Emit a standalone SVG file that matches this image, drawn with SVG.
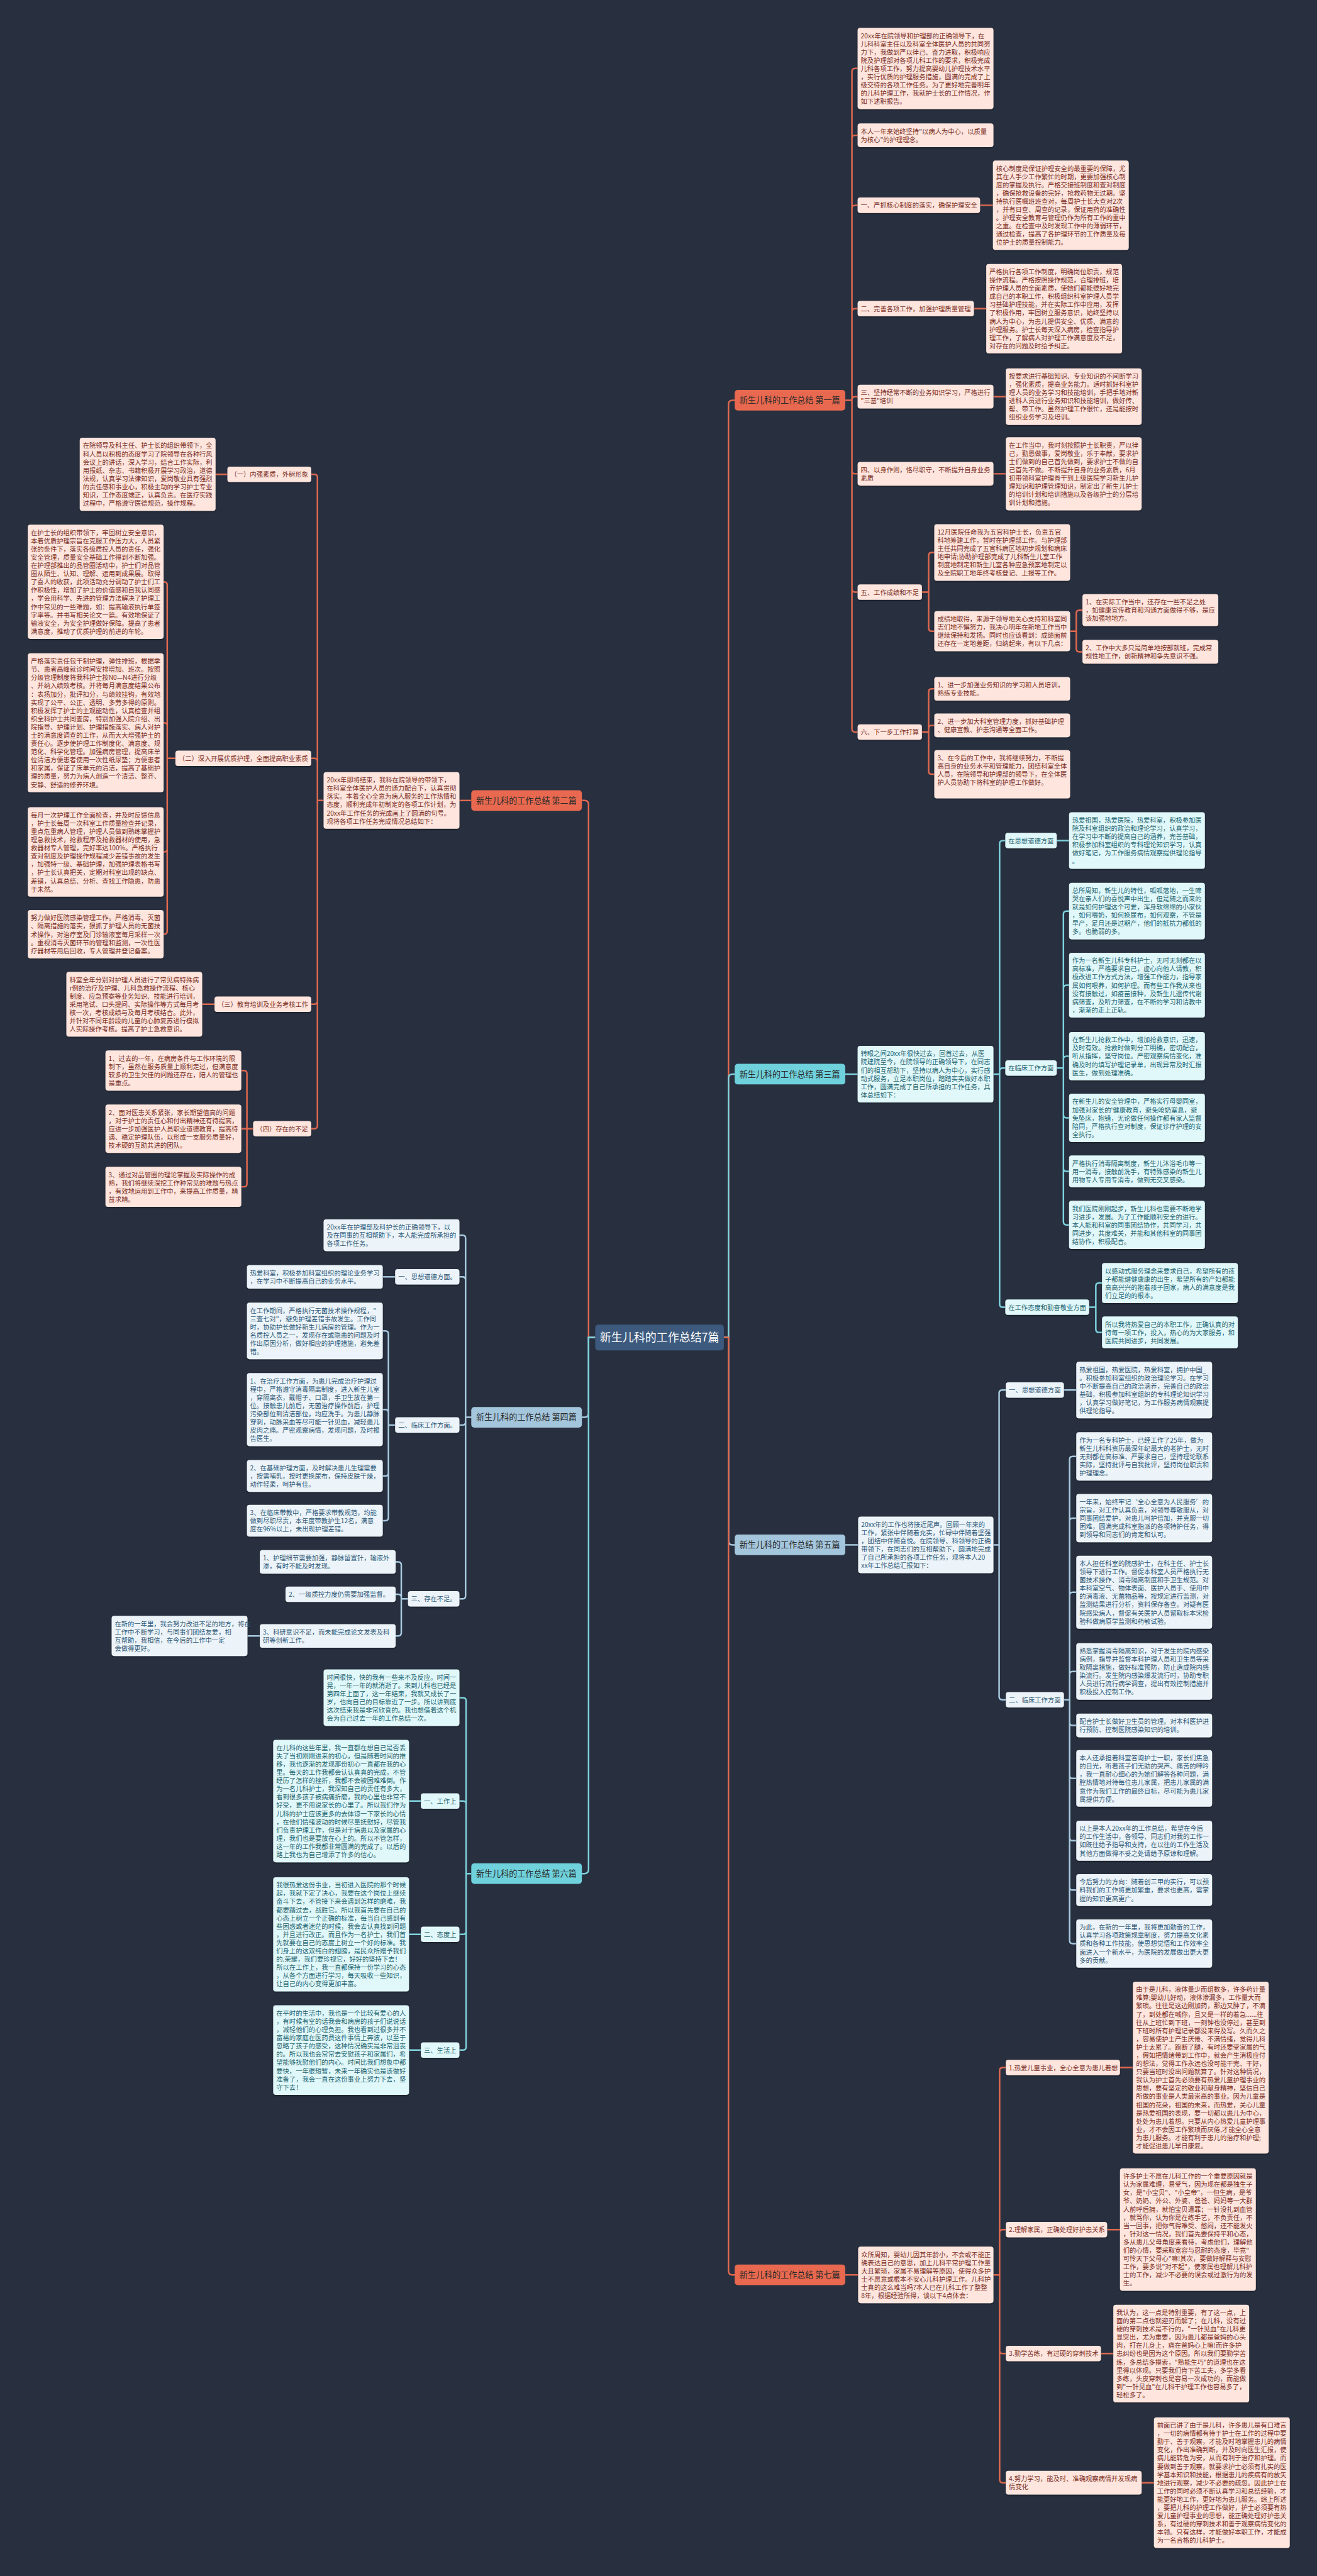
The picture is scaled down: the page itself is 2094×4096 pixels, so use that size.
<svg xmlns="http://www.w3.org/2000/svg" width="2094" height="4096" viewBox="0 0 2094 4096">
<defs>
<filter id="sh" x="-5%" y="-5%" width="110%" height="115%"><feDropShadow dx="0" dy="2" stdDeviation="1.5" flood-color="#000" flood-opacity="0.35"/></filter>
<style>
text{font-family:"Noto Sans CJK SC","Noto Sans",sans-serif;font-size:12.6px}
.bo{fill:#fee5dd}.bc{fill:#e1f8fa}.bb{fill:#ecf4f9}
.to{fill:#7a2e1f}.tc{fill:#1d6470}.tb{fill:#2f5877}
.co,.cc,.cb{fill:none;stroke-width:3}
.co{stroke:#e0694f}.cc{stroke:#7ed3dd}.cb{stroke:#a9cbe0}
.box{filter:url(#sh)}
.nt{font-size:16px;fill:#2b2b2b;text-anchor:middle}
</style>
</defs>
<rect width="2094" height="4096" fill="#283040"/>
<g transform="scale(0.818)">
<g id="connectors">
<path class="co" d="M1407 2600H1416V786Q1416 778 1424 778H1428"/>
<path class="cc" d="M1407 2600H1416V2096Q1416 2088 1424 2088H1428"/>
<path class="cb" d="M1407 2600H1416V2995Q1416 3003 1424 3003H1428"/>
<path class="co" d="M1407 2600H1416V4414Q1416 4422 1424 4422H1428"/>
<path class="co" d="M1157 2600H1144V1564Q1144 1556 1136 1556H1131"/>
<path class="cb" d="M1157 2600H1144V2747Q1144 2755 1136 2755H1131"/>
<path class="cc" d="M1157 2600H1144V3634Q1144 3642 1136 3642H1131"/>
<path class="co" d="M1643 778H1656V139Q1656 133 1662 133H1667M1643 778H1656V269Q1656 263 1662 263H1667M1643 778H1656V405Q1656 399 1662 399H1667M1643 778H1656V606Q1656 600 1662 600H1667M1643 778H1656V777Q1656 771 1662 771H1667M1643 778H1656V915Q1656 921 1662 921H1667M1643 778H1656V1145Q1656 1151 1662 1151H1667M1643 778H1656V1417Q1656 1423 1662 1423H1667"/>
<path class="co" d="M1905 399H1930M1893 600H1917M1931 771H1955M1931 921H1955"/>
<path class="co" d="M1792 1151H1805V1080Q1805 1074 1811 1074H1816M1792 1151H1805V1221Q1805 1227 1811 1227H1816"/>
<path class="co" d="M2080 1227H2092V1192Q2092 1186 2098 1186H2104M2080 1227H2092V1261Q2092 1267 2098 1267H2104"/>
<path class="co" d="M1792 1423H1805V1345Q1805 1339 1811 1339H1816M1792 1423H1805V1416Q1805 1410 1811 1410H1816M1792 1423H1805V1499Q1805 1505 1811 1505H1816"/>
<path class="cc" d="M1643 2088H1667"/>
<path class="cc" d="M1931 2088H1943V1640Q1943 1634 1949 1634H1954M1931 2088H1943V2082Q1943 2076 1949 2076H1954M1931 2088H1943V2535Q1943 2541 1949 2541H1954"/>
<path class="cc" d="M2054 1634H2078"/>
<path class="cc" d="M2054 2076H2067V1777Q2067 1771 2073 1771H2078M2054 2076H2067V1921Q2067 1915 2073 1915H2078M2054 2076H2067V2059Q2067 2053 2073 2053H2078M2054 2076H2067V2167Q2067 2173 2073 2173H2078M2054 2076H2067V2271Q2067 2277 2073 2277H2078M2054 2076H2067V2375Q2067 2381 2073 2381H2078"/>
<path class="cc" d="M2117 2541H2130V2500Q2130 2494 2136 2494H2142M2117 2541H2130V2584Q2130 2590 2136 2590H2142"/>
<path class="cb" d="M1643 3003H1668"/>
<path class="cb" d="M1931 3003H1942V2708Q1942 2702 1948 2702H1955M1931 3003H1942V3298Q1942 3304 1948 3304H1955"/>
<path class="cb" d="M2068 2702H2092"/>
<path class="cb" d="M2068 3304H2079V2837Q2079 2831 2085 2831H2092M2068 3304H2079V2957Q2079 2951 2085 2951H2092M2068 3304H2079V3101Q2079 3095 2085 3095H2092M2068 3304H2079V3255Q2079 3249 2085 3249H2092M2068 3304H2079V3348Q2079 3354 2085 3354H2092M2068 3304H2079V3451Q2079 3457 2085 3457H2092M2068 3304H2079V3572Q2079 3578 2085 3578H2092M2068 3304H2079V3668Q2079 3674 2085 3674H2092M2068 3304H2079V3772Q2079 3778 2085 3778H2092"/>
<path class="co" d="M1643 4422H1668"/>
<path class="co" d="M1931 4422H1943V4025Q1943 4019 1949 4019H1955M1931 4422H1943V4340Q1943 4334 1949 4334H1955M1931 4422H1943V4569Q1943 4575 1949 4575H1955M1931 4422H1943V4820Q1943 4826 1949 4826H1955"/>
<path class="co" d="M2177 4019H2202M2152 4334H2177M2140 4575H2164M2219 4826H2243"/>
<path class="co" d="M916 1556H893"/>
<path class="co" d="M629 1556H617V928Q617 922 611 922H605M629 1556H617V1480Q617 1474 611 1474H605M629 1556H617V1946Q617 1952 611 1952H605M629 1556H617V2188Q617 2194 611 2194H605"/>
<path class="co" d="M442 922H419M417 1952H393"/>
<path class="co" d="M341 1474H325V1137Q325 1131 319 1131H318M341 1474H325V1411Q325 1405 319 1405H318M341 1474H325V1650Q325 1656 319 1656H318M341 1474H325V1810Q325 1816 319 1816H318"/>
<path class="co" d="M492 2194H480V2087Q480 2081 474 2081H469M492 2194H469M492 2194H480V2301Q480 2307 474 2307H469"/>
<path class="cb" d="M917 2755H905V2407Q905 2401 899 2401H893M917 2755H905V2488Q905 2482 899 2482H893M917 2755H905V2764Q905 2770 899 2770H893M917 2755H905V3102Q905 3108 899 3108H893"/>
<path class="cb" d="M768 2482H744"/>
<path class="cb" d="M768 2770H755V2593Q755 2587 749 2587H744M768 2770H755V2746Q755 2740 749 2740H744M768 2770H755V2863Q755 2869 749 2869H744M768 2770H755V2950Q755 2956 749 2956H744"/>
<path class="cb" d="M793 3108H780V3042Q780 3036 774 3036H769M793 3108H780V3105Q780 3099 774 3099H769M793 3108H780V3174Q780 3180 774 3180H769"/>
<path class="cb" d="M505 3180H481"/>
<path class="cc" d="M916 3642H906V3306Q906 3300 900 3300H893M916 3642H906V3507Q906 3501 900 3501H893M916 3642H906V3754Q906 3760 900 3760H893M916 3642H906V3979Q906 3985 900 3985H893"/>
<path class="cc" d="M818 3501H795M818 3760H795M818 3985H795"/>
</g>

<g id="center"><rect x="1157" y="2575" width="250" height="50" rx="6" fill="#3d5a7e"/><text x="1282" y="2608" style="font-size:22px;fill:#fff;text-anchor:middle">新生儿科的工作总结7篇</text></g>

<g id="p1"><rect x="1428" y="758" width="215" height="40" rx="6" fill="#e8694f"/><text class="nt" x="1535" y="784">新生儿科的工作总结 第一篇</text></g>
<g id="p2"><rect x="916" y="1536" width="215" height="40" rx="6" fill="#e8694f"/><text class="nt" x="1023" y="1562">新生儿科的工作总结 第二篇</text></g>
<g id="p3"><rect x="1428" y="2068" width="215" height="40" rx="6" fill="#6fd1dc"/><text class="nt" x="1535" y="2094">新生儿科的工作总结 第三篇</text></g>
<g id="p4"><rect x="916" y="2735" width="215" height="40" rx="6" fill="#a4c6dd"/><text class="nt" x="1023" y="2761">新生儿科的工作总结 第四篇</text></g>
<g id="p5"><rect x="1428" y="2983" width="215" height="40" rx="6" fill="#a4c6dd"/><text class="nt" x="1535" y="3009">新生儿科的工作总结 第五篇</text></g>
<g id="p6"><rect x="916" y="3622" width="215" height="40" rx="6" fill="#6fd1dc"/><text class="nt" x="1023" y="3648">新生儿科的工作总结 第六篇</text></g>
<g id="p7"><rect x="1428" y="4402" width="215" height="40" rx="6" fill="#e8694f"/><text class="nt" x="1535" y="4428">新生儿科的工作总结 第七篇</text></g>

<g id="b1-1"><rect class="bo box" x="1667" y="54" width="264" height="158" rx="5"/><text class="to" x="1673" y="74">20xx年在院领导和护理部的正确领导下，在<tspan x="1673" dy="16">儿科科室主任以及科室全体医护人员的共同努</tspan><tspan x="1673" dy="16">力下，我做到严以律己、奋力进取，积极响应</tspan><tspan x="1673" dy="16">院及护理部对各项儿科工作的要求，积极完成</tspan><tspan x="1673" dy="16">儿科各项工作，努力提高婴幼儿护理技术水平</tspan><tspan x="1673" dy="16">，实行优质的护理服务措施，圆满的完成了上</tspan><tspan x="1673" dy="16">级交待的各项工作任务。为了更好地完善明年</tspan><tspan x="1673" dy="16">的儿科护理工作，我就护士长的工作情况，作</tspan><tspan x="1673" dy="16">如下述职报告。</tspan></text></g>
<g id="b1-2"><rect class="bo box" x="1667" y="240" width="264" height="46" rx="5"/><text class="to" x="1673" y="260">本人一年来始终坚持"以病人为中心，以质量<tspan x="1673" dy="16">为核心"的护理理念。</tspan></text></g>
<g id="b1-h1"><rect class="bo box" x="1667" y="384" width="238" height="30" rx="5"/><text class="to" x="1673" y="404">一、严抓核心制度的落实，确保护理安全</text></g>
<g id="b1-h1c"><rect class="bo box" x="1930" y="312" width="264" height="174" rx="5"/><text class="to" x="1936" y="332">核心制度是保证护理安全的最重要的保障，尤<tspan x="1936" dy="16">其在人手少工作繁忙的时期，更要加强核心制</tspan><tspan x="1936" dy="16">度的掌握及执行。严格交接班制度和查对制度</tspan><tspan x="1936" dy="16">，确保抢救设备的完好，抢救药物无过期。坚</tspan><tspan x="1936" dy="16">持执行医嘱班班查对，每周护士长大查对2次</tspan><tspan x="1936" dy="16">，并有日查、周查的记录，保证用药的准确性</tspan><tspan x="1936" dy="16">。护理安全教育与管理仍作为所有工作的重中</tspan><tspan x="1936" dy="16">之重。在检查中及时发现工作中的薄弱环节，</tspan><tspan x="1936" dy="16">通过检查，提高了各护理环节的工作质量及每</tspan><tspan x="1936" dy="16">位护士的质量控制能力。</tspan></text></g>
<g id="b1-h2"><rect class="bo box" x="1667" y="585" width="226" height="30" rx="5"/><text class="to" x="1673" y="605">二、完善各项工作，加强护理质量管理</text></g>
<g id="b1-h2c"><rect class="bo box" x="1917" y="513" width="264" height="174" rx="5"/><text class="to" x="1923" y="533">严格执行各项工作制度，明确岗位职责，规范<tspan x="1923" dy="16">操作流程。严格按照操作规范，合理排班，培</tspan><tspan x="1923" dy="16">养护理人员的全面素质，使她们都能很好地完</tspan><tspan x="1923" dy="16">成自己的本职工作，积极组织科室护理人员学</tspan><tspan x="1923" dy="16">习基础护理技能，并在实际工作中应用，发挥</tspan><tspan x="1923" dy="16">了积极作用，牢固树立服务意识，始终坚持以</tspan><tspan x="1923" dy="16">病人为中心，为患儿提供安全、优质、满意的</tspan><tspan x="1923" dy="16">护理服务。护士长每天深入病房，检查指导护</tspan><tspan x="1923" dy="16">理工作，了解病人对护理工作满意度及不足，</tspan><tspan x="1923" dy="16">对存在的问题及时给予纠正。</tspan></text></g>
<g id="b1-h3"><rect class="bo box" x="1667" y="748" width="264" height="46" rx="5"/><text class="to" x="1673" y="768">三、坚持经常不断的业务知识学习，严格进行<tspan x="1673" dy="16">"三基"培训</tspan></text></g>
<g id="b1-h3c"><rect class="bo box" x="1955" y="716" width="264" height="110" rx="5"/><text class="to" x="1961" y="736">按要求进行基础知识、专业知识的不间断学习<tspan x="1961" dy="16">，强化素质，提高业务能力。适时抓好科室护</tspan><tspan x="1961" dy="16">理人员的业务学习和技能培训，手把手地对新</tspan><tspan x="1961" dy="16">进科人员进行业务知识和技能培训，做好传、</tspan><tspan x="1961" dy="16">帮、带工作。虽然护理工作很忙，还是能按时</tspan><tspan x="1961" dy="16">组织业务学习及培训。</tspan></text></g>
<g id="b1-h4"><rect class="bo box" x="1667" y="898" width="264" height="46" rx="5"/><text class="to" x="1673" y="918">四、以身作则，恪尽职守，不断提升自身业务<tspan x="1673" dy="16">素质</tspan></text></g>
<g id="b1-h4c"><rect class="bo box" x="1955" y="850" width="264" height="142" rx="5"/><text class="to" x="1961" y="870">在工作当中，我时刻按照护士长职责，严以律<tspan x="1961" dy="16">己，勤恳做事，爱岗敬业，乐于奉献，要求护</tspan><tspan x="1961" dy="16">士们做到的自己首先做到，要求护士不做的自</tspan><tspan x="1961" dy="16">己首先不做。不断提升自身的业务素质，6月</tspan><tspan x="1961" dy="16">初带领科室护理骨干到上级医院学习新生儿护</tspan><tspan x="1961" dy="16">理知识和护理管理知识，制定出了新生儿护士</tspan><tspan x="1961" dy="16">的培训计划和培训措施以及各级护士的分层培</tspan><tspan x="1961" dy="16">训计划和措施。</tspan></text></g>
<g id="b1-h5"><rect class="bo box" x="1667" y="1136" width="125" height="30" rx="5"/><text class="to" x="1673" y="1156">五、工作成绩和不足</text></g>
<g id="b1-h5a"><rect class="bo box" x="1816" y="1019" width="264" height="110" rx="5"/><text class="to" x="1822" y="1039">12月医院任命我为五官科护士长，负责五官<tspan x="1822" dy="16">科地筹建工作，暂时在护理部工作。与护理部</tspan><tspan x="1822" dy="16">主任共同完成了五官科病区地初步规划和病床</tspan><tspan x="1822" dy="16">地申请;协助护理部完成了儿科新生儿室工作</tspan><tspan x="1822" dy="16">制度地制定和新生儿室各种应急预案地制定以</tspan><tspan x="1822" dy="16">及全院职工地年终考核登记、上报等工作。</tspan></text></g>
<g id="b1-h5b"><rect class="bo box" x="1816" y="1188" width="264" height="78" rx="5"/><text class="to" x="1822" y="1208">成绩地取得，来源于领导地关心支持和科室同<tspan x="1822" dy="16">志们地不懈努力，我决心明年在新地工作当中</tspan><tspan x="1822" dy="16">继续保持和发扬。同时也应该看到：成绩面前</tspan><tspan x="1822" dy="16">还存在一定地差距，归纳起来，有以下几点：</tspan></text></g>
<g id="b1-h5b1"><rect class="bo box" x="2104" y="1155" width="264" height="62" rx="5"/><text class="to" x="2110" y="1175">1、在实际工作当中，还存在一些不足之处<tspan x="2110" dy="16">，如健康宣传教育和沟通方面做得不够，是应</tspan><tspan x="2110" dy="16">该加强地地方。</tspan></text></g>
<g id="b1-h5b2"><rect class="bo box" x="2104" y="1244" width="264" height="46" rx="5"/><text class="to" x="2110" y="1264">2、工作中大多只是简单地按部就班，完成常<tspan x="2110" dy="16">规性地工作，创新精神和争先意识不强。</tspan></text></g>
<g id="b1-h6"><rect class="bo box" x="1667" y="1408" width="125" height="30" rx="5"/><text class="to" x="1673" y="1428">六、下一步工作打算</text></g>
<g id="b1-h6a"><rect class="bo box" x="1816" y="1316" width="264" height="46" rx="5"/><text class="to" x="1822" y="1336">1、进一步加强业务知识的学习和人员培训，<tspan x="1822" dy="16">熟练专业技能。</tspan></text></g>
<g id="b1-h6b"><rect class="bo box" x="1816" y="1387" width="264" height="46" rx="5"/><text class="to" x="1822" y="1407">2、进一步加大科室管理力度，抓好基础护理<tspan x="1822" dy="16">、健康宣教、护患沟通等全面工作。</tspan></text></g>
<g id="b1-h6c"><rect class="bo box" x="1816" y="1458" width="264" height="94" rx="5"/><text class="to" x="1822" y="1478">3、在今后的工作中，我将继续努力，不断提<tspan x="1822" dy="16">高自身的业务水平和管理能力，团结科室全体</tspan><tspan x="1822" dy="16">人员，在院领导和护理部的领导下，在全体医</tspan><tspan x="1822" dy="16">护人员协助下将科室的护理工作做好。</tspan></text></g>

<g id="b3-0"><rect class="bc box" x="1667" y="2033" width="264" height="110" rx="5"/><text class="tc" x="1673" y="2053">转眼之间20xx年很快过去，回首过去，从医<tspan x="1673" dy="16">院建院至今，在院领导的正确领导下，在同志</tspan><tspan x="1673" dy="16">们的相互帮助下，坚持以病人为中心，实行感</tspan><tspan x="1673" dy="16">动式服务，立足本职岗位，踏踏实实做好本职</tspan><tspan x="1673" dy="16">工作，圆满完成了自己所承担的工作任务，具</tspan><tspan x="1673" dy="16">体总结如下：</tspan></text></g>
<g id="b3-h1"><rect class="bc box" x="1954" y="1619" width="100" height="30" rx="5"/><text class="tc" x="1960" y="1639">在思想道德方面</text></g>
<g id="b3-h1c"><rect class="bc box" x="2078" y="1579" width="264" height="110" rx="5"/><text class="tc" x="2084" y="1599">热爱祖国，热爱医院，热爱科室，积极参加医<tspan x="2084" dy="16">院及科室组织的政治和理论学习，认真学习，</tspan><tspan x="2084" dy="16">在学习中不断的提高自己的涵养，完善基础，</tspan><tspan x="2084" dy="16">积极参加科室组织的专科理论知识学习，认真</tspan><tspan x="2084" dy="16">做好笔记，为工作服务病情观察提供理论指导</tspan><tspan x="2084" dy="16">。</tspan></text></g>
<g id="b3-h2"><rect class="bc box" x="1954" y="2061" width="100" height="30" rx="5"/><text class="tc" x="1960" y="2081">在临床工作方面</text></g>
<g id="b3-h2a"><rect class="bc box" x="2078" y="1716" width="264" height="110" rx="5"/><text class="tc" x="2084" y="1736">总所周知，新生儿的特性，呱呱落地，一生啼<tspan x="2084" dy="16">哭在亲人们的喜悦声中出生，但是随之而来的</tspan><tspan x="2084" dy="16">就是如何护理这个可爱，浑身软绵绵的小家伙</tspan><tspan x="2084" dy="16">，如何喂奶，如何换尿布，如何观察，不管是</tspan><tspan x="2084" dy="16">早产，足月还是过期产，他们的抵抗力都低的</tspan><tspan x="2084" dy="16">多。也脆弱的多。</tspan></text></g>
<g id="b3-h2b"><rect class="bc box" x="2078" y="1852" width="264" height="126" rx="5"/><text class="tc" x="2084" y="1872">作为一名新生儿科专科护士，无时无刻都在以<tspan x="2084" dy="16">高标准，严格要求自己，虚心向他人请教，积</tspan><tspan x="2084" dy="16">极改进工作方式方法，增强工作能力，指导家</tspan><tspan x="2084" dy="16">属如何喂养，如何护理。而有些工作我从来也</tspan><tspan x="2084" dy="16">没有接触过，如疫苗接种，及新生儿遗传代谢</tspan><tspan x="2084" dy="16">病筛查，及听力筛查，在不断的学习和请教中</tspan><tspan x="2084" dy="16">，渐渐的走上正轨。</tspan></text></g>
<g id="b3-h2c"><rect class="bc box" x="2078" y="2006" width="264" height="94" rx="5"/><text class="tc" x="2084" y="2026">在新生儿抢救工作中，增加抢救意识，迅速，<tspan x="2084" dy="16">及时有效。抢救时做到分工明确，密切配合，</tspan><tspan x="2084" dy="16">听从指挥，坚守岗位。严密观察病情变化，准</tspan><tspan x="2084" dy="16">确及时的填写护理记录单，出现异常及时汇报</tspan><tspan x="2084" dy="16">医生，做到处理准确。</tspan></text></g>
<g id="b3-h2d"><rect class="bc box" x="2078" y="2126" width="264" height="94" rx="5"/><text class="tc" x="2084" y="2146">在新生儿的安全管理中，严格实行母婴同室，<tspan x="2084" dy="16">加强对家长的'健康教育，避免呛奶窒息，避</tspan><tspan x="2084" dy="16">免坠床，抱错，无论做任何操作都有家人监督</tspan><tspan x="2084" dy="16">陪同，严格执行查对制度，保证诊疗护理的安</tspan><tspan x="2084" dy="16">全执行。</tspan></text></g>
<g id="b3-h2e"><rect class="bc box" x="2078" y="2246" width="264" height="62" rx="5"/><text class="tc" x="2084" y="2266">严格执行消毒隔离制度，新生儿沐浴毛巾等一<tspan x="2084" dy="16">用一消毒，接触前洗手，有特殊感染的新生儿</tspan><tspan x="2084" dy="16">用物专人专用专消毒，做到无交叉感染。</tspan></text></g>
<g id="b3-h2f"><rect class="bc box" x="2078" y="2334" width="264" height="94" rx="5"/><text class="tc" x="2084" y="2354">我们医院刚刚起步，新生儿科也需要不断地学<tspan x="2084" dy="16">习进步，发展。为了工作能顺利安全的进行。</tspan><tspan x="2084" dy="16">本人能和科室的同事团结协作，共同学习，共</tspan><tspan x="2084" dy="16">同进步，共度难关，并能和其他科室的同事团</tspan><tspan x="2084" dy="16">结协作，积极配合。</tspan></text></g>
<g id="b3-h3"><rect class="bc box" x="1954" y="2526" width="163" height="30" rx="5"/><text class="tc" x="1960" y="2546">在工作态度和勤奋敬业方面</text></g>
<g id="b3-h3a"><rect class="bc box" x="2142" y="2455" width="264" height="78" rx="5"/><text class="tc" x="2148" y="2475">以感动式服务理念来要求自己，希望所有的孩<tspan x="2148" dy="16">子都能健健康康的出生，希望所有的产妇都能</tspan><tspan x="2148" dy="16">高高兴兴的抱着孩子回家，病人的满意度是我</tspan><tspan x="2148" dy="16">们立足的的根本。</tspan></text></g>
<g id="b3-h3b"><rect class="bc box" x="2142" y="2559" width="264" height="62" rx="5"/><text class="tc" x="2148" y="2579">所以我将热爱自己的本职工作，正确认真的对<tspan x="2148" dy="16">待每一项工作，投入，热心的为大家服务，和</tspan><tspan x="2148" dy="16">医院共同进步，共同发展。</tspan></text></g>

<g id="b5-0"><rect class="bb box" x="1668" y="2948" width="263" height="110" rx="5"/><text class="tb" x="1674" y="2968">20xx年的工作也将接近尾声。回顾一年来的<tspan x="1674" dy="16">工作，紧张中伴随着充实，忙碌中伴随着坚强</tspan><tspan x="1674" dy="16">，团结中伴随喜悦。在院领导、科领导的正确</tspan><tspan x="1674" dy="16">带领下，在同志们的互相帮助下，圆满地完成</tspan><tspan x="1674" dy="16">了自己所承担的各项工作任务，现将本人20</tspan><tspan x="1674" dy="16">xx年工作总结汇报如下：</tspan></text></g>
<g id="b5-h1"><rect class="bb box" x="1955" y="2687" width="113" height="30" rx="5"/><text class="tb" x="1961" y="2707">一、思想道德方面</text></g>
<g id="b5-h1c"><rect class="bb box" x="2092" y="2647" width="264" height="110" rx="5"/><text class="tb" x="2098" y="2667">热爱祖国，热爱医院，热爱科室，拥护中国_<tspan x="2098" dy="16">。积极参加科室组织的政治理论学习。在学习</tspan><tspan x="2098" dy="16">中不断提高自己的政治涵养，完善自己的政治</tspan><tspan x="2098" dy="16">基础，积极参加科室组织的专科理论知识学习</tspan><tspan x="2098" dy="16">，认真学习做好笔记，为工作服务病情观察提</tspan><tspan x="2098" dy="16">供理论指导。</tspan></text></g>
<g id="b5-h2"><rect class="bb box" x="1955" y="3289" width="113" height="30" rx="5"/><text class="tb" x="1961" y="3309">二、临床工作方面</text></g>
<g id="b5-h2a"><rect class="bb box" x="2092" y="2784" width="264" height="94" rx="5"/><text class="tb" x="2098" y="2804">作为一名专科护士，已经工作了25年，做为<tspan x="2098" dy="16">新生儿科科资历最深年纪最大的老护士，无时</tspan><tspan x="2098" dy="16">无刻都在高标准、严要求自己，坚持理论联系</tspan><tspan x="2098" dy="16">实际，坚持批评与自我批评，坚持岗位职责和</tspan><tspan x="2098" dy="16">护理理念。</tspan></text></g>
<g id="b5-h2b"><rect class="bb box" x="2092" y="2904" width="264" height="94" rx="5"/><text class="tb" x="2098" y="2924">一年来，始终牢记‘全心全意为人民服务’的<tspan x="2098" dy="16">宗旨，对工作认真负责，对领导尊敬服从，对</tspan><tspan x="2098" dy="16">同事团结爱护，对患儿呵护倍加，并克服一切</tspan><tspan x="2098" dy="16">困难，圆满完成科室指派的各项特护任务，得</tspan><tspan x="2098" dy="16">到领导和同志们的肯定和认可。</tspan></text></g>
<g id="b5-h2c"><rect class="bb box" x="2092" y="3024" width="264" height="142" rx="5"/><text class="tb" x="2098" y="3044">本人担任科室的院感护士，在科主任、护士长<tspan x="2098" dy="16">领导下进行工作。督促本科室人员严格执行无</tspan><tspan x="2098" dy="16">菌技术操作、消毒隔离制度和手卫生规范。对</tspan><tspan x="2098" dy="16">本科室空气、物体表面、医护人员手、使用中</tspan><tspan x="2098" dy="16">的消毒液、无菌物品等，按规定进行监测，对</tspan><tspan x="2098" dy="16">监测结果进行分析，资料保存备查。对疑有医</tspan><tspan x="2098" dy="16">院感染病人，督促有关医护人员留取标本宋检</tspan><tspan x="2098" dy="16">验科做病原学监测和药敏试验。</tspan></text></g>
<g id="b5-h2d"><rect class="bb box" x="2092" y="3194" width="264" height="110" rx="5"/><text class="tb" x="2098" y="3214">熟悉掌握消毒隔离知识，对于发生的院内感染<tspan x="2098" dy="16">病例，指导并监督本科护理人员和卫生员等采</tspan><tspan x="2098" dy="16">取隔离措施，做好标准预防，防止造成院内感</tspan><tspan x="2098" dy="16">染流行。发生院内感染爆发流行时，协助专职</tspan><tspan x="2098" dy="16">人员进行流行病学调查，提出有效控制措施并</tspan><tspan x="2098" dy="16">积极投入控制工作。</tspan></text></g>
<g id="b5-h2e"><rect class="bb box" x="2092" y="3331" width="264" height="46" rx="5"/><text class="tb" x="2098" y="3351">配合护士长做好卫生员的管理。对本科医护进<tspan x="2098" dy="16">行预防、控制医院感染知识的培训。</tspan></text></g>
<g id="b5-h2f"><rect class="bb box" x="2092" y="3402" width="264" height="110" rx="5"/><text class="tb" x="2098" y="3422">本人还承担着科室答询护士一职，家长们焦急<tspan x="2098" dy="16">的目光，听着孩子们无助的哭声、痛苦的呻吟</tspan><tspan x="2098" dy="16">，我一直耐心细心的为她们解答各种问题，满</tspan><tspan x="2098" dy="16">腔热情地对待每位患儿家属，把患儿家属的满</tspan><tspan x="2098" dy="16">意作为我们工作的最终目标，尽可能为患儿家</tspan><tspan x="2098" dy="16">属提供方便。</tspan></text></g>
<g id="b5-h2g"><rect class="bb box" x="2092" y="3539" width="264" height="78" rx="5"/><text class="tb" x="2098" y="3559">以上是本人20xx年的工作总结，希望在今后<tspan x="2098" dy="16">的工作生活中，各领导、同志们对我的工作一</tspan><tspan x="2098" dy="16">如既往给予指导和支持，在以往的工作生活及</tspan><tspan x="2098" dy="16">其他方面做得不妥之处请给予原谅和理解。</tspan></text></g>
<g id="b5-h2h"><rect class="bb box" x="2092" y="3643" width="264" height="62" rx="5"/><text class="tb" x="2098" y="3663">今后努力的方向：随着创三甲的实行，可以预<tspan x="2098" dy="16">料我们的工作将更加繁重，要求也更高，需掌</tspan><tspan x="2098" dy="16">握的知识更高更广。</tspan></text></g>
<g id="b5-h2i"><rect class="bb box" x="2092" y="3731" width="264" height="94" rx="5"/><text class="tb" x="2098" y="3751">为此，在新的一年里，我将更加勤奋的工作，<tspan x="2098" dy="16">认真学习各项政策规章制度，努力提高文化素</tspan><tspan x="2098" dy="16">质和各种工作技能，使思想觉悟和工作效率全</tspan><tspan x="2098" dy="16">面进入一个新水平，为医院的发展做出更大更</tspan><tspan x="2098" dy="16">多的贡献。</tspan></text></g>

<g id="b7-0"><rect class="bo box" x="1668" y="4367" width="263" height="110" rx="5"/><text class="to" x="1674" y="4387">众所周知，婴幼儿因其年龄小，不会或不能正<tspan x="1674" dy="16">确表达自己的意思，加上儿科平常护理工作量</tspan><tspan x="1674" dy="16">大且繁琐，家属不易理解等原因，使得众多护</tspan><tspan x="1674" dy="16">士不愿意或根本不安心儿科护理工作。儿科护</tspan><tspan x="1674" dy="16">士真的这么难当吗?本人已在儿科工作了整整</tspan><tspan x="1674" dy="16">8年，根据经验所得，谈以下4点体会：</tspan></text></g>
<g id="b7-h1"><rect class="bo box" x="1955" y="4004" width="222" height="30" rx="5"/><text class="to" x="1961" y="4024">1.热爱儿童事业，全心全意为患儿着想</text></g>
<g id="b7-h1c"><rect class="bo box" x="2202" y="3852" width="264" height="334" rx="5"/><text class="to" x="2208" y="3872">由于是儿科，液体量少而组数多，许多药计量<tspan x="2208" dy="16">难算;婴幼儿好动，液体渗漏多，工作量大而</tspan><tspan x="2208" dy="16">繁琐。往往是这边刚加药，那边又肿了，不滴</tspan><tspan x="2208" dy="16">了，到处都在喊你，且又是一样的着急......往</tspan><tspan x="2208" dy="16">往从上班忙到下班，一刻钟也没停过，甚至到</tspan><tspan x="2208" dy="16">下班时所有护理记录都没来得及写。久而久之</tspan><tspan x="2208" dy="16">，容易使护士产生厌倦、不满情绪，觉得儿科</tspan><tspan x="2208" dy="16">护士太累了。跑断了腿，有时还要受家属的气</tspan><tspan x="2208" dy="16">，假如把情绪带到工作中，就会产生消极应付</tspan><tspan x="2208" dy="16">的想法，觉得工作永远也没可能干完、干好，</tspan><tspan x="2208" dy="16">只要当班时没出问题就算了。针对这种情况，</tspan><tspan x="2208" dy="16">我认为护士首先必须要有热爱儿童护理事业的</tspan><tspan x="2208" dy="16">思想，要有坚定的敬业和献身精神，坚信自己</tspan><tspan x="2208" dy="16">所做的事业是人类最崇高的事业。因为儿童是</tspan><tspan x="2208" dy="16">祖国的花朵，祖国的未来，而热爱，关心儿童</tspan><tspan x="2208" dy="16">是热爱祖国的表现，要一切都以患儿为中心，</tspan><tspan x="2208" dy="16">处处为患儿着想。只要从内心热爱儿童护理事</tspan><tspan x="2208" dy="16">业，才不会因工作繁琐而厌倦,才能全心全意</tspan><tspan x="2208" dy="16">为患儿服务。才能有利于患儿的治疗和护理;</tspan><tspan x="2208" dy="16">才能促进患儿早日康复。</tspan></text></g>
<g id="b7-h2"><rect class="bo box" x="1955" y="4319" width="197" height="30" rx="5"/><text class="to" x="1961" y="4339">2.理解家属，正确处理好护患关系</text></g>
<g id="b7-h2c"><rect class="bo box" x="2177" y="4215" width="264" height="238" rx="5"/><text class="to" x="2183" y="4235">许多护士不愿在儿科工作的一个重要原因就是<tspan x="2183" dy="16">认为家属难缠，易受气，因为现在都是独生子</tspan><tspan x="2183" dy="16">女，是"小宝贝"、"小皇帝"，一但生病，是爷</tspan><tspan x="2183" dy="16">爷、奶奶、外公、外婆、爸爸、妈妈等一大群</tspan><tspan x="2183" dy="16">人前呼后拥，就怕宝贝遭罪；一针没扎到血管</tspan><tspan x="2183" dy="16">，就骂你，认为你是在练手艺，不负责任，不</tspan><tspan x="2183" dy="16">当一回事，把你气得难受、憋闷，还不能发火</tspan><tspan x="2183" dy="16">，针对这一情况，我们首先要保持平和心态，</tspan><tspan x="2183" dy="16">多从患儿父母角度来看待，考虑他们，理解他</tspan><tspan x="2183" dy="16">们的心情，要采取宽容与忍耐的态度，毕竟"</tspan><tspan x="2183" dy="16">可怜天下父母心"嘛!其次，要做好解释与安慰</tspan><tspan x="2183" dy="16">工作，要多说"对不起"，使家属也理解儿科护</tspan><tspan x="2183" dy="16">士的工作，减少不必要的误会或过激行为的发</tspan><tspan x="2183" dy="16">生。</tspan></text></g>
<g id="b7-h3"><rect class="bo box" x="1955" y="4560" width="185" height="30" rx="5"/><text class="to" x="1961" y="4580">3.勤学苦练，有过硬的穿刺技术</text></g>
<g id="b7-h3c"><rect class="bo box" x="2164" y="4480" width="264" height="190" rx="5"/><text class="to" x="2170" y="4500">我认为，这一点是特别重要，有了这一点，上<tspan x="2170" dy="16">面的第二点也就迎刃而解了；在儿科，没有过</tspan><tspan x="2170" dy="16">硬的穿刺技术是不行的，"一针见血"在儿科更</tspan><tspan x="2170" dy="16">显突出，尤为重要，因为患儿都是爸妈的心头</tspan><tspan x="2170" dy="16">肉，打在儿身上，痛在爸妈心上嘛!而许多护</tspan><tspan x="2170" dy="16">患纠纷也是因为这个原因。所以我们要勤学苦</tspan><tspan x="2170" dy="16">练，多总结多摸索，"熟能生巧"的道理也在这</tspan><tspan x="2170" dy="16">里得以体现。只要我们肯下苦工夫，多学多看</tspan><tspan x="2170" dy="16">多练，头皮穿刺也是容易一次成功的，而能做</tspan><tspan x="2170" dy="16">到"一针见血"在儿科干护理工作也容易多了，</tspan><tspan x="2170" dy="16">轻松多了。</tspan></text></g>
<g id="b7-h4"><rect class="bo box" x="1955" y="4803" width="264" height="46" rx="5"/><text class="to" x="1961" y="4823">4.努力学习，能及时、准确观察病情并发现病<tspan x="1961" dy="16">情变化</tspan></text></g>
<g id="b7-h4c"><rect class="bo box" x="2243" y="4699" width="264" height="254" rx="5"/><text class="to" x="2249" y="4719">前面已讲了由于是儿科，许多患儿是有口难言<tspan x="2249" dy="16">，一切的病情都有待于护士在工作的过程中要</tspan><tspan x="2249" dy="16">勤于、善于观察，才能及时地掌握患儿的病情</tspan><tspan x="2249" dy="16">变化，作出准确判断，并及时向医生汇报，使</tspan><tspan x="2249" dy="16">病儿能转危为安，从而有利于治疗和护理。而</tspan><tspan x="2249" dy="16">要做到善于观察，就要求护士必须有扎实的医</tspan><tspan x="2249" dy="16">学基本知识和技能，根据患儿的疾病有的放矢</tspan><tspan x="2249" dy="16">地进行观察，减少不必要的疏忽。因此护士在</tspan><tspan x="2249" dy="16">工作的同时必须不断认真学习和总结经验，才</tspan><tspan x="2249" dy="16">能更好地工作，更好地为患儿服务。综上所述</tspan><tspan x="2249" dy="16">，要把儿科的护理工作做好，护士必须要有热</tspan><tspan x="2249" dy="16">爱儿童护理事业的思想，能正确处理好护患关</tspan><tspan x="2249" dy="16">系，有过硬的穿刺技术和善于观察病情变化的</tspan><tspan x="2249" dy="16">本领。只有这样，才能做好本职工作，才能成</tspan><tspan x="2249" dy="16">为一名合格的儿科护士。</tspan></text></g>

<g id="b2-0"><rect class="bo box" x="629" y="1501" width="264" height="110" rx="5"/><text class="to" x="635" y="1521">20xx年即将结束，我科在院领导的带领下，<tspan x="635" dy="16">在科室全体医护人员的通力配合下，认真贯彻</tspan><tspan x="635" dy="16">落实。本着全心全意为病人服务的工作热情和</tspan><tspan x="635" dy="16">态度，顺利完成年初制定的各项工作计划，为</tspan><tspan x="635" dy="16">20xx年工作任务的完成画上了圆满的句号。</tspan><tspan x="635" dy="16">现将各项工作任务完成情况总结如下：</tspan></text></g>
<g id="b2-h1"><rect class="bo box" x="442" y="907" width="163" height="30" rx="5"/><text class="to" x="448" y="927">（一）内强素质，外树形象</text></g>
<g id="b2-h1c"><rect class="bo box" x="155" y="851" width="264" height="142" rx="5"/><text class="to" x="161" y="871">在院领导及科主任、护士长的组织带领下，全<tspan x="161" dy="16">科人员以积极的态度学习了院领导在各种行风</tspan><tspan x="161" dy="16">会议上的讲话，深入学习，结合工作实际，利</tspan><tspan x="161" dy="16">用报纸、杂志、书籍积极开展学习政治，道德</tspan><tspan x="161" dy="16">法规，认真学习法律知识，爱岗敬业具有强烈</tspan><tspan x="161" dy="16">的责任感和事业心，积极主动的学习护士专业</tspan><tspan x="161" dy="16">知识，工作态度端正，认真负责。在医疗实践</tspan><tspan x="161" dy="16">过程中，严格遵守医德规范，操作规程。</tspan></text></g>
<g id="b2-h2"><rect class="bo box" x="341" y="1459" width="264" height="30" rx="5"/><text class="to" x="347" y="1479">（二）深入开展优质护理，全面提高职业素质</text></g>
<g id="b2-h2a"><rect class="bo box" x="54" y="1020" width="264" height="222" rx="5"/><text class="to" x="60" y="1040">在护士长的组织带领下，牢固树立安全意识，<tspan x="60" dy="16">本着优质护理宗旨在克服工作压力大，人员紧</tspan><tspan x="60" dy="16">张的条件下，落实各级质控人员的责任，强化</tspan><tspan x="60" dy="16">安全管理，质量安全基础工作得到不断加强。</tspan><tspan x="60" dy="16">在护理部推出的品管圈活动中，护士们对品管</tspan><tspan x="60" dy="16">圈从陌生、认知、理解、运用到成果展。取得</tspan><tspan x="60" dy="16">了喜人的收获，此项活动充分调动了护士们工</tspan><tspan x="60" dy="16">作积极性，增加了护士的价值感和自我认同感</tspan><tspan x="60" dy="16">，学会用科学、先进的管理方法解决了护理工</tspan><tspan x="60" dy="16">作中常见的一些难题，如：提高输液执行单签</tspan><tspan x="60" dy="16">字率等。并书写相关论文一篇。有效地保证了</tspan><tspan x="60" dy="16">输液安全，为安全护理做好保障。提高了患者</tspan><tspan x="60" dy="16">满意度，推动了优质护理的前进的车轮。</tspan></text></g>
<g id="b2-h2b"><rect class="bo box" x="54" y="1270" width="264" height="270" rx="5"/><text class="to" x="60" y="1290">严格落实责任包干制护理，弹性排班，根据季<tspan x="60" dy="16">节、患者高峰就诊时间安排增加、班次。按照</tspan><tspan x="60" dy="16">分级管理制度将我科护士按N0—N4进行分级</tspan><tspan x="60" dy="16">、并纳入绩效考核。并将每月满意度结果公布</tspan><tspan x="60" dy="16">：表扬加分，批评扣分，与绩效挂钩，有效地</tspan><tspan x="60" dy="16">实现了公平、公正、透明、多劳多得的原则。</tspan><tspan x="60" dy="16">积极发挥了护士的主观能动性，认真检查并组</tspan><tspan x="60" dy="16">织全科护士共同查房，特别加强入院介绍、出</tspan><tspan x="60" dy="16">院指导、护理计划、护理措施落实、病人对护</tspan><tspan x="60" dy="16">士的满意度调查的工作，从而大大增强护士的</tspan><tspan x="60" dy="16">责任心。逐步使护理工作制度化、满意度、规</tspan><tspan x="60" dy="16">范化、科学化管理。加强病房管理，提高床单</tspan><tspan x="60" dy="16">位清洁方便患者使用一次性纸尿垫；方便患者</tspan><tspan x="60" dy="16">和家属，保证了床单元的清洁，提高了基础护</tspan><tspan x="60" dy="16">理的质量，努力为病人创造一个清洁、整齐、</tspan><tspan x="60" dy="16">安静、舒适的修养环境。</tspan></text></g>
<g id="b2-h2c"><rect class="bo box" x="54" y="1569" width="264" height="174" rx="5"/><text class="to" x="60" y="1589">每月一次护理工作全面检查，并及时反馈信息<tspan x="60" dy="16">，护士长每周一次科室工作质量检查并记录，</tspan><tspan x="60" dy="16">重点危重病人管理，护理人员做到熟练掌握护</tspan><tspan x="60" dy="16">理急救技术，抢救程序及抢救器材的使用，急</tspan><tspan x="60" dy="16">救器材专人管理，完好率达100%。严格执行</tspan><tspan x="60" dy="16">查对制度及护理操作规程减少差错事故的发生</tspan><tspan x="60" dy="16">，加强特一级、基础护理，加强护理表格书写</tspan><tspan x="60" dy="16">，护士长认真把关，定期对科室出现的缺点、</tspan><tspan x="60" dy="16">差错，认真总结、分析、查找工作隐患，防患</tspan><tspan x="60" dy="16">于未然。</tspan></text></g>
<g id="b2-h2d"><rect class="bo box" x="54" y="1769" width="264" height="94" rx="5"/><text class="to" x="60" y="1789">努力做好医院感染管理工作。严格消毒、灭菌<tspan x="60" dy="16">、隔离措施的落实，狠抓了护理人员的无菌技</tspan><tspan x="60" dy="16">术操作，对治疗室及门诊输液室每月采样一次</tspan><tspan x="60" dy="16">。重视消毒灭菌环节的管理和监测，一次性医</tspan><tspan x="60" dy="16">疗器材等用后回收，专人管理并登记备案。</tspan></text></g>
<g id="b2-h3"><rect class="bo box" x="417" y="1937" width="188" height="30" rx="5"/><text class="to" x="423" y="1957">（三）教育培训及业务考核工作</text></g>
<g id="b2-h3c"><rect class="bo box" x="129" y="1889" width="264" height="126" rx="5"/><text class="to" x="135" y="1909">科室全年分别对护理人员进行了常见病特殊病<tspan x="135" dy="16">r例的治疗及护理、儿科急救操作流程、核心</tspan><tspan x="135" dy="16">制度、应急预案等业务知识、技能进行培训，</tspan><tspan x="135" dy="16">采用笔试、口头提问、实际操作等方式每月考</tspan><tspan x="135" dy="16">核一次，考核成绩与及每月考核结合。此外，</tspan><tspan x="135" dy="16">并针对不同年龄段的儿童的心肺复苏进行模拟</tspan><tspan x="135" dy="16">人实际操作考核。提高了护士急救意识。</tspan></text></g>
<g id="b2-h4"><rect class="bo box" x="492" y="2179" width="113" height="30" rx="5"/><text class="to" x="498" y="2199">（四）存在的不足</text></g>
<g id="b2-h4a"><rect class="bo box" x="205" y="2042" width="264" height="78" rx="5"/><text class="to" x="211" y="2062">1、过去的一年，在病房条件与工作环境的限<tspan x="211" dy="16">制下，虽然在服务质量上顺利走过，但满意度</tspan><tspan x="211" dy="16">较多的卫生欠佳的问题还存在，陪人的管理也</tspan><tspan x="211" dy="16">是重点。</tspan></text></g>
<g id="b2-h4b"><rect class="bo box" x="205" y="2147" width="264" height="94" rx="5"/><text class="to" x="211" y="2167">2、面对医患关系紧张，家长期望值高的问题<tspan x="211" dy="16">，对于护士的责任心和付出精神还有待提高，</tspan><tspan x="211" dy="16">应进一步加强医护人员职业道德教育，提高待</tspan><tspan x="211" dy="16">遇、稳定护理队伍，以形成一支服务质量好，</tspan><tspan x="211" dy="16">技术硬的互助共进的团队。</tspan></text></g>
<g id="b2-h4c"><rect class="bo box" x="205" y="2268" width="264" height="78" rx="5"/><text class="to" x="211" y="2288">3、通过对品管圈的理论掌握及实际操作的成<tspan x="211" dy="16">熟，我们将继续深挖工作种常见的难题与热点</tspan><tspan x="211" dy="16">，有效地运用到工作中，来提高工作质量，精</tspan><tspan x="211" dy="16">益求精。</tspan></text></g>

<g id="b4-0"><rect class="bb box" x="629" y="2370" width="264" height="62" rx="5"/><text class="tb" x="635" y="2390">20xx年在护理部及科护长的正确领导下，以<tspan x="635" dy="16">及在同事的互相帮助下，本人能完成所承担的</tspan><tspan x="635" dy="16">各项工作任务。</tspan></text></g>
<g id="b4-h1"><rect class="bb box" x="768" y="2467" width="125" height="30" rx="5"/><text class="tb" x="774" y="2487">一、思想道德方面。</text></g>
<g id="b4-h1c"><rect class="bb box" x="480" y="2459" width="264" height="46" rx="5"/><text class="tb" x="486" y="2479">热爱科室，积极参加科室组织的理论业务学习<tspan x="486" dy="16">，在学习中不断提高自己的业务水平。</tspan></text></g>
<g id="b4-h2"><rect class="bb box" x="768" y="2755" width="125" height="30" rx="5"/><text class="tb" x="774" y="2775">二、临床工作方面。</text></g>
<g id="b4-h2a"><rect class="bb box" x="480" y="2532" width="264" height="110" rx="5"/><text class="tb" x="486" y="2552">在工作期间，严格执行无菌技术操作规程，"<tspan x="486" dy="16">三查七对"，避免护理差错事故发生。工作同</tspan><tspan x="486" dy="16">时，协助护长做好新生儿病房的管理。作为一</tspan><tspan x="486" dy="16">名质控人员之一，发现存在或隐患的问题及时</tspan><tspan x="486" dy="16">作出原因分析，做好相应的护理措施，避免差</tspan><tspan x="486" dy="16">错。</tspan></text></g>
<g id="b4-h2b"><rect class="bb box" x="480" y="2669" width="264" height="142" rx="5"/><text class="tb" x="486" y="2689">1、在治疗工作方面，为患儿完成治疗护理过<tspan x="486" dy="16">程中，严格遵守消毒隔离制度，进入新生儿室</tspan><tspan x="486" dy="16">，穿隔离衣，戴帽子、口罩，手卫生放在第一</tspan><tspan x="486" dy="16">位。接触患儿前后，无菌治疗操作前后，护理</tspan><tspan x="486" dy="16">污染部位到清洁部位，均应洗手。为患儿静脉</tspan><tspan x="486" dy="16">穿刺，动脉采血等尽可能一针见血，减轻患儿</tspan><tspan x="486" dy="16">皮肉之痛。严密观察病情，发现问题，及时报</tspan><tspan x="486" dy="16">告医生。</tspan></text></g>
<g id="b4-h2c"><rect class="bb box" x="480" y="2838" width="264" height="62" rx="5"/><text class="tb" x="486" y="2858">2、在基础护理方面，及时解决患儿生理需要<tspan x="486" dy="16">，按需哺乳，按时更换尿布，保持皮肤干燥，</tspan><tspan x="486" dy="16">动作轻柔，呵护有佳。</tspan></text></g>
<g id="b4-h2d"><rect class="bb box" x="480" y="2925" width="264" height="62" rx="5"/><text class="tb" x="486" y="2945">3、在临床带教中，严格要求带教规范，均能<tspan x="486" dy="16">做到尽职尽责，本年度带教护生12名，满意</tspan><tspan x="486" dy="16">度在96%以上，未出现护理差错。</tspan></text></g>
<g id="b4-h3"><rect class="bb box" x="793" y="3093" width="100" height="30" rx="5"/><text class="tb" x="799" y="3113">三、存在不足。</text></g>
<g id="b4-h3a"><rect class="bb box" x="505" y="3013" width="264" height="46" rx="5"/><text class="tb" x="511" y="3033">1、护理细节需要加强，静脉留置针，输液外<tspan x="511" dy="16">渗，有时不能及时发现。</tspan></text></g>
<g id="b4-h3b"><rect class="bb box" x="555" y="3084" width="214" height="30" rx="5"/><text class="tb" x="561" y="3104">2、一级质控力度仍需要加强监督。</text></g>
<g id="b4-h3c"><rect class="bb box" x="505" y="3157" width="264" height="46" rx="5"/><text class="tb" x="511" y="3177">3、科研意识不足，而未能完成论文发表及科<tspan x="511" dy="16">研等创新工作。</tspan></text></g>
<g id="b4-h3cc"><rect class="bb box" x="217" y="3141" width="264" height="78" rx="5"/><text class="tb" x="223" y="3161">在新的一年里，我会努力改进不足的地方，将在<tspan x="223" dy="16">工作中不断学习，与同事们团结友爱，相</tspan><tspan x="223" dy="16">互帮助，我相信，在今后的工作中一定</tspan><tspan x="223" dy="16">会做得更好。</tspan></text></g>

<g id="b6-0"><rect class="bc box" x="629" y="3245" width="264" height="110" rx="5"/><text class="tc" x="635" y="3265">时间很快，快的我有一些来不及反应。时间一<tspan x="635" dy="16">晃，一年一年的就消逝了。来到儿科也已经是</tspan><tspan x="635" dy="16">第四年上面了，这一年结束，我就又成长了一</tspan><tspan x="635" dy="16">岁，也向自己的目标靠近了一步。所以讲到底</tspan><tspan x="635" dy="16">这次结束我是非常欣喜的。我也想借着这个机</tspan><tspan x="635" dy="16">会为自己过去一年的工作总结一次。</tspan></text></g>
<g id="b6-h1"><rect class="bc box" x="818" y="3486" width="75" height="30" rx="5"/><text class="tc" x="824" y="3506">一、工作上</text></g>
<g id="b6-h1c"><rect class="bc box" x="531" y="3382" width="264" height="238" rx="5"/><text class="tc" x="537" y="3402">在儿科的这些年里，我一直都在想自己是否丢<tspan x="537" dy="16">失了当初刚刚进来的初心，但是随着时间的推</tspan><tspan x="537" dy="16">移，我也逐渐的发现那份初心一直都在我的心</tspan><tspan x="537" dy="16">里。每天的工作我都会认认真真的完成，不管</tspan><tspan x="537" dy="16">经历了怎样的挫折，我都不会被困难难倒。作</tspan><tspan x="537" dy="16">为一名儿科护士，我深知自己的责任有多大，</tspan><tspan x="537" dy="16">看到很多孩子被病痛折磨，我的心里也非常不</tspan><tspan x="537" dy="16">好受，更不用说家长的心里了。所以我们作为</tspan><tspan x="537" dy="16">儿科的护士应该更多的去体谅一下家长的心情</tspan><tspan x="537" dy="16">，在他们情绪波动的时候尽量抚慰好，尽管我</tspan><tspan x="537" dy="16">们负责护理工作，但是对于病患以及家属的心</tspan><tspan x="537" dy="16">理，我们也是要放在心上的。所以不管怎样，</tspan><tspan x="537" dy="16">这一年的工作我都非常圆满的完成了。以后的</tspan><tspan x="537" dy="16">路上我也为自己增添了许多的信心。</tspan></text></g>
<g id="b6-h2"><rect class="bc box" x="818" y="3745" width="75" height="30" rx="5"/><text class="tc" x="824" y="3765">二、态度上</text></g>
<g id="b6-h2c"><rect class="bc box" x="531" y="3649" width="264" height="222" rx="5"/><text class="tc" x="537" y="3669">我很热爱这份事业，当初进入医院的那个时候<tspan x="537" dy="16">起，我就下定了决心，我要在这个岗位上继续</tspan><tspan x="537" dy="16">奋斗下去，不管接下来会遇到怎样的磨难，我</tspan><tspan x="537" dy="16">都要踏过去，战胜它。所以我首先要在自己的</tspan><tspan x="537" dy="16">心态上树立一个正确的标准，每当自己感到有</tspan><tspan x="537" dy="16">些困惑或者迷茫的时候，我会去认真找到问题</tspan><tspan x="537" dy="16">，并且进行改正。而且作为一名护士，我们首</tspan><tspan x="537" dy="16">先就要在自己的态度上树立一个好的标准。我</tspan><tspan x="537" dy="16">们身上的这双纯白的翅膀，是民众所赠予我们</tspan><tspan x="537" dy="16">的.荣耀，我们要珍视它，好好的坚持下去！</tspan><tspan x="537" dy="16">所以在工作上，我一直都保持一份学习的心态</tspan><tspan x="537" dy="16">，从各个方面进行学习，每天吸收一些知识，</tspan><tspan x="537" dy="16">让自己的内心变得更加丰富。</tspan></text></g>
<g id="b6-h3"><rect class="bc box" x="818" y="3970" width="75" height="30" rx="5"/><text class="tc" x="824" y="3990">三、生活上</text></g>
<g id="b6-h3c"><rect class="bc box" x="531" y="3898" width="264" height="174" rx="5"/><text class="tc" x="537" y="3918">在平时的生活中，我也是一个比较有爱心的人<tspan x="537" dy="16">，有时候有空的话我会和病房的孩子们说说话</tspan><tspan x="537" dy="16">，减轻他们的心理负担。我也看到过很多并不</tspan><tspan x="537" dy="16">富裕的家庭在医药费这件事情上奔波，以至于</tspan><tspan x="537" dy="16">忽略了孩子的感受，这种情况确实是非常沮丧</tspan><tspan x="537" dy="16">的。所以我也会常常去安慰孩子和家属们，希</tspan><tspan x="537" dy="16">望能够抚慰他们的内心。时间比我们想象中都</tspan><tspan x="537" dy="16">要快，一年很短暂，未来一年确实也是该做好</tspan><tspan x="537" dy="16">准备了，我会一直在这份事业上努力下去，坚</tspan><tspan x="537" dy="16">守下去！</tspan></text></g>
</g>
</svg>
